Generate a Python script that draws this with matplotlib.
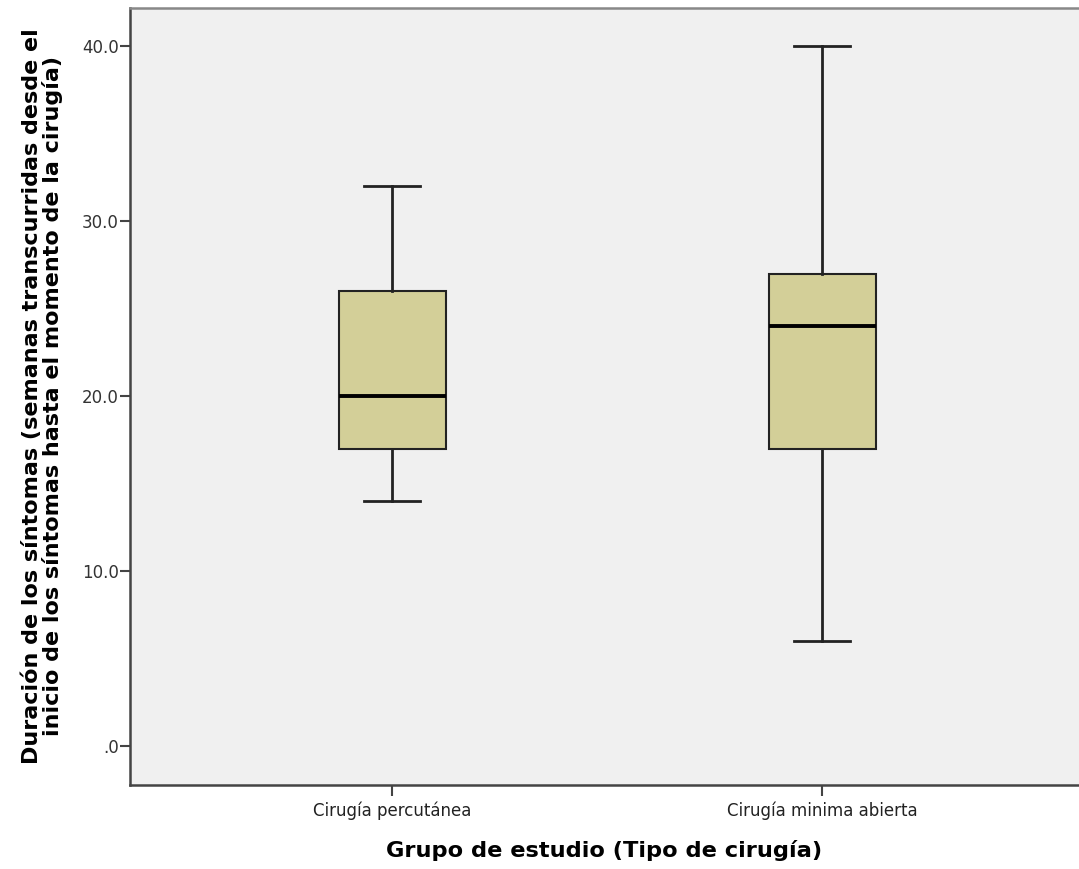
import numpy as np
import matplotlib.pyplot as plt

plt.rcParams['font.family'] = ['DejaVu Sans']

# Box statistics (weeks)
groups = ['Cirugía percutánea', 'Cirugía minima abierta']
whisker_low = [14, 6]
q1 = [17, 17]
median = [20, 24]
q3 = [26, 27]
whisker_high = [32, 40]

stats = []
for i in range(len(groups)):
    stats.append({'label': groups[i], 'whislo': whisker_low[i], 'q1': q1[i],
                  'med': median[i], 'q3': q3[i], 'whishi': whisker_high[i]})

fig = plt.figure(figsize=(10.79, 8.69), dpi=100)
ax = fig.add_axes([130 / 1079, 84 / 869, 949 / 1079, 777 / 869])
ax.set_facecolor('#F0F0F0')

ax.bxp(stats, positions=[1, 2], widths=0.25, showfliers=False, patch_artist=True,
       boxprops=dict(facecolor='#D3CF98', edgecolor='#222222', linewidth=1.5),
       medianprops=dict(color='#000000', linewidth=2.8),
       whiskerprops=dict(color='#222222', linewidth=2),
       capprops=dict(color='#222222', linewidth=2), capwidths=0.13)

ax.set_xlim(0.39, 0.39 + 949 / 430)
ax.set_ylim(-2.23, 42.2)
ax.set_yticks([0, 10, 20, 30, 40])
ax.set_yticklabels(['.0', '10.0', '20.0', '30.0', '40.0'], fontsize=12, color='#333333')
ax.set_xticks([1, 2])
ax.set_xticklabels(groups, fontsize=12, color='#222222')
ax.tick_params(axis='y', length=7, width=1.5, color='#444444', pad=1)
ax.tick_params(axis='x', length=8, width=1.5, color='#444444', pad=4)

for s in ['left', 'bottom']:
    ax.spines[s].set_color('#444444')
    ax.spines[s].set_linewidth(1.8)
ax.spines['top'].set_color('#888888')
ax.spines['top'].set_linewidth(1.8)
ax.spines['right'].set_visible(False)

ax.set_xlabel('Grupo de estudio (Tipo de cirugía)', fontsize=16.2, fontweight='bold', labelpad=14)
ax.set_ylabel('Duración de los síntomas (semanas transcurridas desde el\n'
              'inicio de los síntomas hasta el momento de la cirugía)',
              fontsize=16, fontweight='bold', labelpad=14, linespacing=0.95)

fig.savefig('out.png', dpi=100)
